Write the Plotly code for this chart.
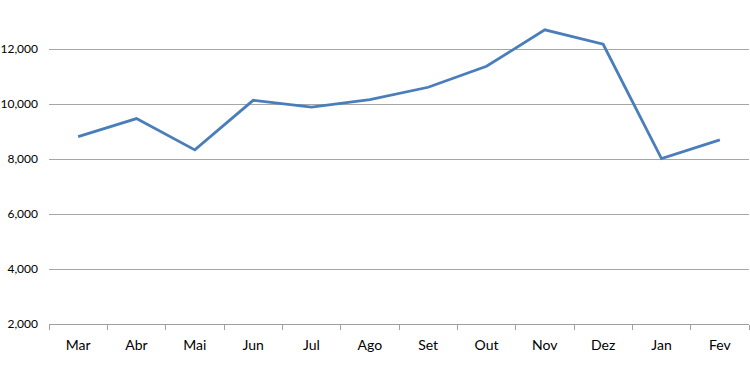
import plotly.graph_objects as go

months = ["Mar", "Abr", "Mai", "Jun", "Jul", "Ago", "Set", "Out", "Nov", "Dez", "Jan", "Fev"]
values = [8820, 9475, 8335, 10140, 9890, 10165, 10615, 11380, 12705, 12180, 8020, 8700]
y_ticks = [2000, 4000, 6000, 8000, 10000, 12000]
y_tick_labels = ["2,000", "4,000", "6,000", "8,000", "10,000", "12,000"]

fig = go.Figure()
fig.add_trace(go.Scatter(
    x=months, y=values, mode="lines",
    line=dict(color="#4A7EBB", width=2.8),
    hoverinfo="skip",
))

fig.update_layout(
    width=750, height=375,
    margin=dict(l=49, r=1, t=0, b=51, autoexpand=False),
    paper_bgcolor="white", plot_bgcolor="white",
    showlegend=False,
    font=dict(family="Lato", size=14, color="#000000"),
)
fig.update_xaxes(
    type="category", tickson="boundaries", automargin=False,
    showgrid=False, showline=True, linecolor="#A0A0A0", linewidth=1.2,
    ticks="outside", ticklen=5, tickcolor="#A0A0A0", tickwidth=1,
    ticklabelstandoff=8,
    range=[-0.5, 11.5],
)
fig.update_yaxes(
    range=[2000, 13790], automargin=False,
    tickvals=y_ticks, ticktext=y_tick_labels,
    tickfont=dict(family="Lato", size=12),
    showgrid=True, gridcolor="#A6A6A6", gridwidth=1.2,
    zeroline=False, showline=False, ticks="",
    ticklabelstandoff=10,
)

fig.write_html(
    "out.html",
    config={"displayModeBar": False},
    post_script="document.body.style.margin='0';document.body.style.padding='0';",
)
